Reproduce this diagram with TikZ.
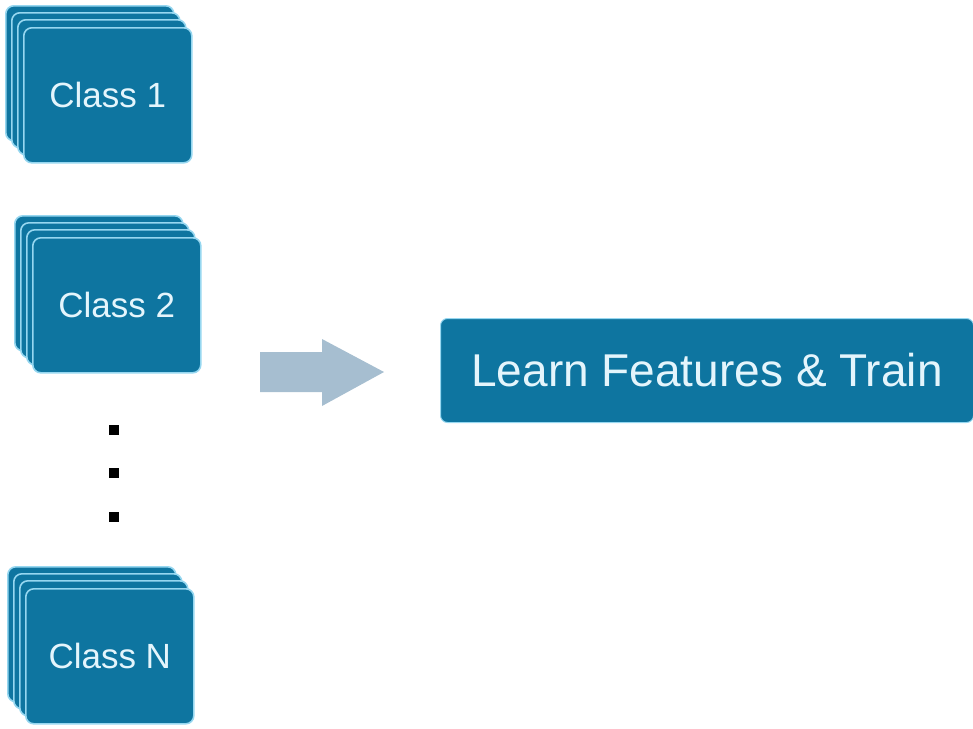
\documentclass[tikz,border=0pt]{standalone}
\usepackage{fontspec}
\setmainfont{Liberation Sans}
\definecolor{cardblue}{RGB}{14,117,160}
\definecolor{cardedge}{RGB}{150,215,240}
\definecolor{cardtext}{RGB}{228,245,252}
\definecolor{arrowgray}{RGB}{166,190,208}
\begin{document}
\begin{tikzpicture}[x=1pt,y=-1pt,
  card/.style={fill=cardblue,draw=cardedge,line width=1.6pt,rounded corners=8pt,
    minimum width=168pt,minimum height=135pt,inner sep=0pt,anchor=north west},
  cardlabel/.style={text=cardtext,font=\fontsize{35}{42}\selectfont},
  dotsq/.style={fill=black,minimum size=10.5pt,inner sep=0pt},
  bigbox/.style={fill=cardblue,draw=cardedge,line width=1pt,rounded corners=7pt,
    minimum width=533pt,minimum height=104pt,inner sep=0pt,anchor=north west,
    text=cardtext,font=\fontsize{46}{54}\selectfont}]
\useasboundingbox (0,0) rectangle (973,728);
% Class 1 stack
\foreach \i in {0,1,2} {\node[card] (c1b\i) at (5+6*\i,5+7*\i) {};}
\node[card,cardlabel] (c1) at (23,27) {Class 1};
% Class 2 stack
\foreach \i in {0,1,2} {\node[card] (c2b\i) at (14+6*\i,215+7*\i) {};}
\node[card,cardlabel] (c2) at (32,237) {Class 2};
% Class N stack
\foreach \i in {0,1,2} {\node[card] (cNb\i) at (7+6*\i,566+7*\i) {};}
\node[card,cardlabel] (cN) at (25,588) {Class N};
% dots
\node[dotsq] (d1) at (114,430) {};
\node[dotsq] (d2) at (114,473) {};
\node[dotsq] (d3) at (114,517) {};
% block arrow
\fill[arrowgray] (260,352) -- (322,352) -- (322,339) -- (384,372) -- (322,406) -- (322,392) -- (260,392) -- cycle;
% learn box
\node[bigbox] (learn) at (440,318) {Learn Features \& Train};
\end{tikzpicture}
\end{document}
